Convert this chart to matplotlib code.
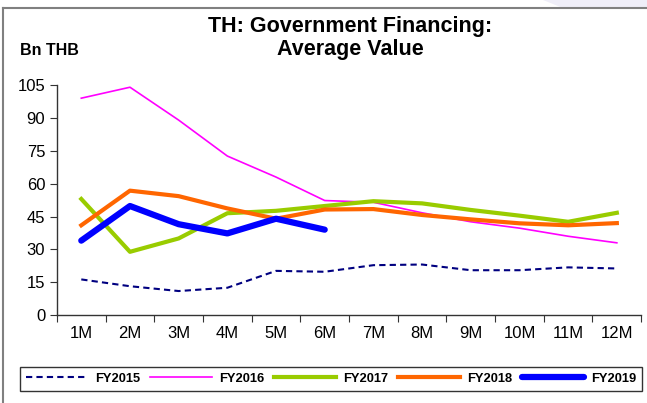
import matplotlib
matplotlib.use("Agg")
import matplotlib.pyplot as plt
import matplotlib.patches as patches
from matplotlib.lines import Line2D

plt.rcParams['font.family'] = ['Liberation Sans', 'DejaVu Sans']

# data (Bn THB)
months = ['1M', '2M', '3M', '4M', '5M', '6M', '7M', '8M', '9M', '10M', '11M', '12M']
fy2015 = [16.3, 13.2, 11.0, 12.5, 20.2, 19.8, 22.8, 23.1, 20.5, 20.5, 21.8, 21.3]
fy2016 = [99.0, 104.0, 89.0, 72.6, 63.0, 52.3, 51.5, 46.7, 42.6, 39.7, 36.0, 33.0]
fy2017 = [53.0, 28.9, 35.0, 46.5, 47.6, 49.8, 52.0, 51.0, 48.0, 45.4, 42.6, 46.7]
fy2018 = [41.0, 56.8, 54.3, 48.7, 44.0, 48.2, 48.4, 45.7, 43.7, 41.9, 41.0, 42.0]
fy2019 = [34.0, 49.8, 41.5, 37.3, 44.0, 39.0]
yticks = [0, 15, 30, 45, 60, 75, 90, 105]

fig = plt.figure(figsize=(6.47, 4.03), dpi=100)
fig.patch.set_facecolor('white')

# lavender background patch top-right + grey frame
fig.add_artist(patches.Polygon([(0.84, 1.0), (1.0, 1.0), (1.0, 0.98), (0.87, 0.98)],
                               closed=True, transform=fig.transFigure,
                               facecolor='#EFEEF8', edgecolor='none'))
fig.add_artist(Line2D([0.005, 1.0], [0.981, 0.981], transform=fig.transFigure,
                      color='#808080', lw=1.5))
fig.add_artist(Line2D([0.005, 0.005], [0.0, 0.981], transform=fig.transFigure,
                      color='#808080', lw=1.5))

ax = fig.add_axes([0.088, 0.218, 0.903, 0.571])
x = list(range(len(months)))

ax.plot(x, fy2015, color='#000080', lw=1.5, ls=(0, (3, 2)), label='FY2015')
ax.plot(x, fy2016, color='#FF00FF', lw=1.2, label='FY2016')
ax.plot(x, fy2017, color='#99CC00', lw=3.0, label='FY2017')
ax.plot(x, fy2018, color='#FF6600', lw=3.0, label='FY2018')
ax.plot(x[:len(fy2019)], fy2019, color='#0000FF', lw=4.5,
        solid_capstyle='round', label='FY2019')

ax.set_xlim(-0.5, len(months) - 0.5)
ax.set_ylim(0, 105)
ax.set_yticks(yticks)
ax.set_xticks([i - 0.5 for i in range(len(months) + 1)], minor=False)
ax.set_xticklabels([''] * (len(months) + 1))
ax.set_xticks(x, minor=True)
ax.set_xticklabels(months, minor=True)
ax.tick_params(axis='x', which='minor', length=0, labelsize=12, pad=8)
ax.tick_params(axis='x', which='major', length=5, direction='out', color='#333333')
ax.tick_params(axis='y', length=5, direction='out', labelsize=12, color='#333333')

for side in ['top', 'right']:
    ax.spines[side].set_visible(False)
for side in ['left', 'bottom']:
    ax.spines[side].set_color('#333333')
    ax.spines[side].set_linewidth(1.0)

fig.text(0.541, 0.906, 'TH: Government Financing:\nAverage Value', ha='center', va='center',
         fontsize=15.5, fontweight='bold', linespacing=1.08)
fig.text(0.031, 0.875, 'Bn THB', ha='left', va='center', fontsize=11.5, fontweight='bold')

leg = fig.legend(loc='center', ncol=5, frameon=True, fancybox=False,
                 prop={'weight': 'bold', 'size': 9.3}, handlelength=4.8,
                 columnspacing=0.75, handletextpad=0.55, borderpad=0.45,
                 borderaxespad=0.0)
leg.get_frame().set_edgecolor('black')
leg.get_frame().set_linewidth(1.0)
leg.set_bbox_to_anchor((0.512, 0.0596), transform=fig.transFigure)

fig.savefig('out.png', dpi=100)
